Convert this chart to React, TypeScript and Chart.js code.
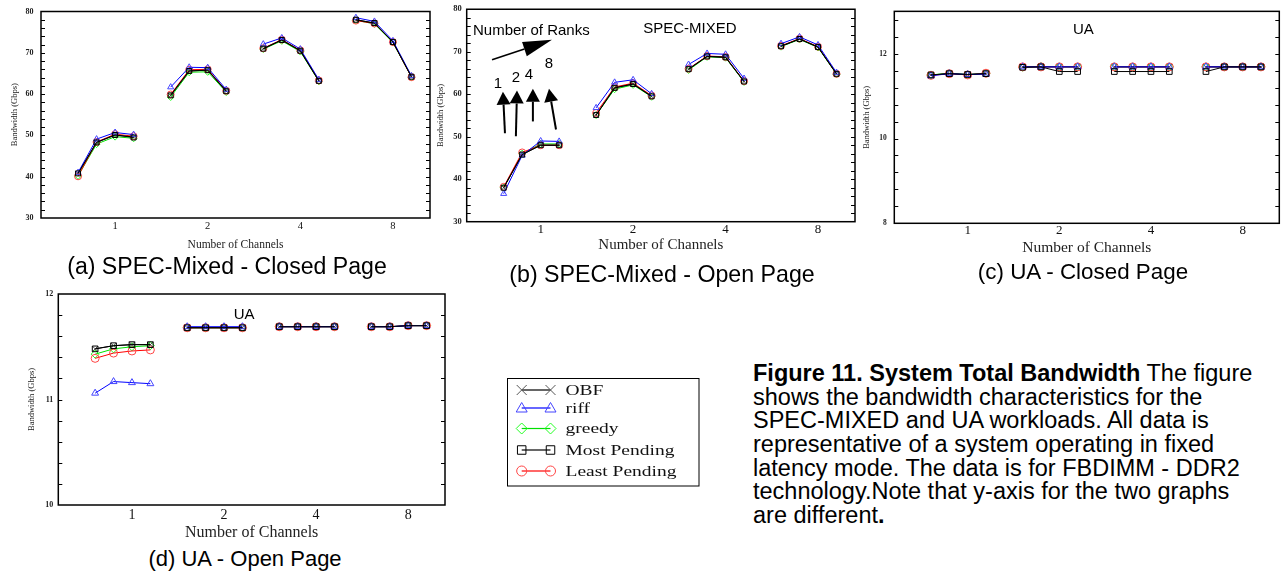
import React, { useEffect, useRef } from 'react';
import { Chart, registerables } from 'chart.js';

Chart.register(...registerables);

// ---------- data ----------
const channelLabels = ['1', '2', '4', '8'];
const rankLabels = ['1', '2', '4', '8'];
const seriesNames = ['OBF', 'riff', 'greedy', 'Most Pending', 'Least Pending'];

// (a) SPEC-Mixed - Closed Page (values per channel group, ranks 1,2,4,8)
const aOBF = [40.8, 48.3, 50.1, 49.6, 59.7, 65.6, 65.8, 60.7, 71.0, 73.1, 70.5, 63.2, 78.0, 77.2, 72.6, 64.2];
const aRiff = [41.0, 49.1, 50.7, 50.2, 61.7, 66.5, 66.4, 61.1, 72.1, 73.6, 70.9, 63.5, 78.5, 77.6, 72.9, 64.4];
const aGreedy = [40.2, 47.9, 49.7, 49.3, 59.3, 65.3, 65.4, 60.5, 70.9, 72.9, 70.3, 63.1, 77.9, 77.0, 72.5, 64.1];
const aMost = [40.8, 48.3, 50.1, 49.5, 59.7, 65.6, 65.8, 60.7, 71.0, 73.1, 70.5, 63.2, 78.0, 77.2, 72.6, 64.2];
const aLeast = [40.1, 48.4, 50.3, 49.8, 59.9, 65.9, 66.0, 60.8, 71.1, 73.2, 70.6, 63.3, 77.8, 77.1, 72.6, 64.1];

// (b) SPEC-Mixed - Open Page
const bOBF = [38.0, 45.8, 48.0, 48.0, 55.1, 61.5, 62.4, 59.5, 65.9, 68.9, 68.7, 63.0, 71.3, 73.0, 71.1, 64.8];
const bRiff = [36.6, 45.6, 49.0, 48.9, 56.8, 62.8, 63.4, 60.1, 67.0, 69.6, 69.4, 63.7, 71.9, 73.5, 71.6, 65.1];
const bGreedy = [38.0, 46.0, 48.3, 48.3, 55.1, 61.2, 62.2, 59.4, 65.7, 68.8, 68.6, 62.9, 71.2, 72.9, 71.0, 64.7];
const bMost = [38.0, 45.8, 48.0, 48.0, 55.1, 61.5, 62.4, 59.5, 65.9, 68.9, 68.7, 63.0, 71.3, 73.0, 71.1, 64.8];
const bLeast = [38.2, 46.3, 48.0, 48.0, 55.6, 61.7, 62.6, 59.7, 66.0, 69.0, 68.8, 63.1, 71.4, 73.1, 71.2, 64.8];

// (c) UA - Closed Page
const cOBF = [11.5, 11.53, 11.51, 11.53, 11.69, 11.69, 11.69, 11.69, 11.69, 11.69, 11.69, 11.69, 11.69, 11.69, 11.69, 11.69];
const cRiff = [11.48, 11.53, 11.51, 11.52, 11.69, 11.69, 11.69, 11.69, 11.69, 11.69, 11.69, 11.69, 11.69, 11.69, 11.69, 11.69];
const cGreedy = [11.5, 11.54, 11.51, 11.54, 11.68, 11.7, 11.69, 11.69, 11.69, 11.69, 11.69, 11.69, 11.69, 11.69, 11.69, 11.69];
const cMost = [11.5, 11.53, 11.51, 11.53, 11.68, 11.69, 11.58, 11.58, 11.58, 11.58, 11.58, 11.58, 11.58, 11.69, 11.69, 11.69];
const cLeast = [11.49, 11.53, 11.5, 11.54, 11.69, 11.69, 11.69, 11.69, 11.69, 11.69, 11.69, 11.69, 11.69, 11.69, 11.69, 11.69];

// (d) UA - Open Page
const dOBF = [11.48, 11.51, 11.52, 11.52, 11.68, 11.68, 11.68, 11.68, 11.69, 11.69, 11.69, 11.69, 11.69, 11.69, 11.7, 11.7];
const dRiff = [11.06, 11.17, 11.16, 11.15, 11.69, 11.69, 11.69, 11.69, 11.69, 11.69, 11.69, 11.69, 11.69, 11.69, 11.7, 11.7];
const dGreedy = [11.43, 11.48, 11.5, 11.51, 11.68, 11.68, 11.68, 11.68, 11.69, 11.69, 11.69, 11.69, 11.69, 11.69, 11.7, 11.7];
const dMost = [11.48, 11.51, 11.52, 11.52, 11.68, 11.68, 11.68, 11.68, 11.69, 11.69, 11.69, 11.69, 11.69, 11.69, 11.7, 11.7];
const dLeast = [11.39, 11.44, 11.46, 11.47, 11.68, 11.68, 11.68, 11.68, 11.69, 11.69, 11.69, 11.69, 11.69, 11.69, 11.7, 11.7];

// y-axis ticks
const specTicks = [30, 40, 50, 60, 70, 80];
const uaClosedTicks = [8, 10, 12];
const uaOpenTicks = [10, 11, 12];

// "Number of Ranks" annotation in panel (b), in data units
const rankArrowTails = [{ x: 0.07, y: 50.8 }, { x: 0.66, y: 50.1 }, { x: 1.58, y: 53.6 }, { x: 2.83, y: 51.7 }];
const rankArrowTips = [{ x: -0.04, y: 60.6 }, { x: 0.72, y: 60.9 }, { x: 1.58, y: 61.3 }, { x: 2.45, y: 61.3 }];
const rankLabelPos = [{ x: -0.31, y: 62.5 }, { x: 0.66, y: 63.9 }, { x: 1.37, y: 64.6 }, { x: 2.45, y: 67.2 }];

// ---------- styles ----------
const seriesStyles = [
  { line: '#000000', point: '#555555', style: 'crossRot', order: 2 },
  { line: '#0000ff', point: '#4444ff', style: 'triangle', order: 1 },
  { line: '#00e000', point: '#22ff22', style: 'rectRot', order: 4 },
  { line: '#000000', point: '#000000', style: 'rect', order: 0 },
  { line: '#ff0000', point: '#ff4444', style: 'circle', order: 3 },
];

const SERIF = "'Liberation Serif', 'Times New Roman', serif";
const SANS = "'Liberation Sans', Arial, sans-serif";

type Box = { left: number; top: number; width: number; height: number };
type Area = { l: number; t: number; r: number; b: number };
type TextItem = { text: string; x: number; y: number; size: number; align: CanvasTextAlign };
type Arrow = { from: { x: number; y: number }; to: { x: number; y: number }; head: number; headW: number; lw: number };

type PanelCfg = {
  series: number[][];
  yMin: number;
  yMax: number;
  yTicks: number[];
  yMinor: number;
  canvas: Box;
  area: Area;
  yTickSize: number;
  yTickPad: number;
  yTitleSize: number;
  yTitlePad: number;
  xTickSize: number;
  xTickPad: number;
  xTitleSize: number;
  xTitlePad: number;
  radius: number;
  texts: TextItem[];
  arrows: Arrow[];
};

function buildData(vals: number[]) {
  const pts: { x: number; y: number | null }[] = [];
  channelLabels.forEach((_, g) => {
    rankLabels.forEach((__, r) => {
      pts.push({ x: g * 5 + r, y: vals[g * rankLabels.length + r] });
    });
    if (g < channelLabels.length - 1) pts.push({ x: g * 5 + 4, y: null });
  });
  return pts;
}

function drawArrow(ctx: CanvasRenderingContext2D, x1: number, y1: number, x2: number, y2: number, head: number, headW: number, lw: number) {
  const ang = Math.atan2(y2 - y1, x2 - x1);
  const bx = x2 - Math.cos(ang) * head;
  const by = y2 - Math.sin(ang) * head;
  ctx.beginPath();
  ctx.lineWidth = lw;
  ctx.moveTo(x1, y1);
  ctx.lineTo(bx, by);
  ctx.stroke();
  ctx.beginPath();
  ctx.moveTo(x2, y2);
  ctx.lineTo(bx + Math.sin(ang) * headW / 2, by - Math.cos(ang) * headW / 2);
  ctx.lineTo(bx - Math.sin(ang) * headW / 2, by + Math.cos(ang) * headW / 2);
  ctx.closePath();
  ctx.fill();
}

function Panel({ cfg }: { cfg: PanelCfg }) {
  const ref = useRef<HTMLCanvasElement>(null);
  useEffect(() => {
    const c = cfg;
    const frame = {
      id: 'frame',
      afterDatasetsDraw(chart: any) {
        const { ctx, chartArea, scales } = chart;
        const { left, right, top, bottom } = chartArea;
        const ys = scales.y;
        const xs = scales.x;
        ctx.save();
        ctx.strokeStyle = '#000';
        ctx.lineWidth = 1.5;
        ctx.strokeRect(left, top, right - left, bottom - top);
        ctx.lineWidth = 1;
        const n = Math.round((c.yMax - c.yMin) / c.yMinor);
        for (let i = 1; i < n; i++) {
          const v = c.yMin + i * c.yMinor;
          const py = Math.round(ys.getPixelForValue(v)) + 0.5;
          ctx.beginPath();
          ctx.moveTo(left, py);
          ctx.lineTo(left + 4, py);
          ctx.moveTo(right, py);
          ctx.lineTo(right - 4, py);
          ctx.stroke();
        }
        ctx.fillStyle = '#000';
        ctx.strokeStyle = '#000';
        c.texts.forEach((t) => {
          ctx.font = `${t.size}px ${SANS}`;
          ctx.textAlign = t.align;
          ctx.textBaseline = 'middle';
          ctx.fillText(t.text, xs.getPixelForValue(t.x), ys.getPixelForValue(t.y));
        });
        c.arrows.forEach((a) => {
          drawArrow(ctx, xs.getPixelForValue(a.from.x), ys.getPixelForValue(a.from.y), xs.getPixelForValue(a.to.x), ys.getPixelForValue(a.to.y), a.head, a.headW, a.lw);
        });
        ctx.restore();
      },
    };
    const chart = new Chart(ref.current as HTMLCanvasElement, {
      type: 'line',
      data: {
        datasets: c.series.map((vals, i) => ({
          label: seriesNames[i],
          data: buildData(vals),
          borderColor: seriesStyles[i].line,
          borderWidth: 1,
          pointStyle: seriesStyles[i].style as any,
          pointRadius: c.radius,
          pointBorderColor: seriesStyles[i].point,
          pointBackgroundColor: 'rgba(0,0,0,0)',
          pointBorderWidth: 1,
          spanGaps: false,
          tension: 0,
          order: seriesStyles[i].order,
        })),
      },
      options: {
        animation: false,
        responsive: false,
        maintainAspectRatio: false,
        events: [],
        layout: {
          padding: {
            left: 0,
            top: c.area.t - c.canvas.top,
            right: c.canvas.left + c.canvas.width - c.area.r,
            bottom: 0,
          },
        },
        plugins: { legend: { display: false }, tooltip: { enabled: false } },
        scales: {
          x: {
            type: 'linear',
            min: -2,
            max: 19,
            grid: { display: false, drawTicks: false },
            border: { display: false },
            afterBuildTicks: (s: any) => {
              s.ticks = channelLabels.map((_, g) => ({ value: g * 5 + 2 }));
            },
            afterFit: (s: any) => {
              s.height = c.canvas.top + c.canvas.height - c.area.b;
            },
            ticks: {
              autoSkip: false,
              maxRotation: 0,
              padding: c.xTickPad,
              color: '#111',
              font: { family: SERIF, size: c.xTickSize, lineHeight: 1 },
              callback: (_v: any, i: number) => channelLabels[i],
            },
            title: {
              display: true,
              text: 'Number of Channels',
              color: '#222',
              font: { family: SERIF, size: c.xTitleSize, lineHeight: 1 },
              padding: { top: 0, bottom: c.xTitlePad },
            },
          },
          y: {
            type: 'linear',
            min: c.yMin,
            max: c.yMax,
            grid: { display: false, drawTicks: false },
            border: { display: false },
            afterBuildTicks: (s: any) => {
              s.ticks = c.yTicks.map((v) => ({ value: v }));
            },
            afterFit: (s: any) => {
              s.width = c.area.l - c.canvas.left;
            },
            ticks: {
              padding: c.yTickPad,
              color: '#222',
              font: { family: SERIF, size: c.yTickSize, weight: 'bold', lineHeight: 1 },
              callback: (v: any) => String(v),
            },
            title: {
              display: true,
              text: 'Bandwidth (Gbps)',
              color: '#222',
              font: { family: SERIF, size: c.yTitleSize, lineHeight: 1 },
              padding: { top: c.yTitlePad, bottom: 0 },
            },
          },
        },
      },
      plugins: [frame],
    } as any);
    return () => chart.destroy();
  }, [cfg]);
  return (
    <canvas
      ref={ref}
      width={cfg.canvas.width}
      height={cfg.canvas.height}
      style={{ position: 'absolute', left: cfg.canvas.left, top: cfg.canvas.top, width: cfg.canvas.width, height: cfg.canvas.height }}
    />
  );
}

const panelA: PanelCfg = {
  series: [aOBF, aRiff, aGreedy, aMost, aLeast],
  yMin: 30, yMax: 80, yTicks: specTicks, yMinor: 2,
  canvas: { left: 0, top: 0, width: 440, height: 256 },
  area: { l: 41, t: 6, r: 430, b: 218 },
  yTickSize: 8, yTickPad: 7.5, yTitleSize: 8.5, yTitlePad: 10.5,
  xTickSize: 10.5, xTickPad: 3, xTitleSize: 11.5, xTitlePad: 5.3,
  radius: 3.5,
  texts: [],
  arrows: [],
};

const panelB: PanelCfg = {
  series: [bOBF, bRiff, bGreedy, bMost, bLeast],
  yMin: 30, yMax: 80, yTicks: specTicks, yMinor: 2,
  canvas: { left: 434, top: 0, width: 436, height: 258 },
  area: { l: 466.7, t: 8.3, r: 855, b: 221.7 },
  yTickSize: 8.5, yTickPad: 5, yTitleSize: 8.5, yTitlePad: 2.3,
  xTickSize: 13, xTickPad: 1, xTitleSize: 15, xTitlePad: 5.5,
  radius: 3.5,
  texts: [
    { text: 'Number of Ranks', x: -1.66, y: 74.9, size: 15, align: 'left' },
    { text: 'SPEC-MIXED', x: 10.07, y: 75.4, size: 15, align: 'center' },
    ...rankLabels.map((t, i) => ({ text: t, x: rankLabelPos[i].x, y: rankLabelPos[i].y, size: 15, align: 'center' as CanvasTextAlign })),
  ],
  arrows: [
    { from: { x: -0.63, y: 68.1 }, to: { x: 2.61, y: 72.8 }, head: 29, headW: 15, lw: 1.6 },
    ...rankArrowTips.map((tip, i) => ({ from: rankArrowTails[i], to: tip, head: 13, headW: 14, lw: 2 })),
  ],
};

const panelC: PanelCfg = {
  series: [cOBF, cRiff, cGreedy, cMost, cLeast],
  yMin: 8, yMax: 13, yTicks: uaClosedTicks, yMinor: 0.4,
  canvas: { left: 862, top: 0, width: 424, height: 262 },
  area: { l: 894.3, t: 5.3, r: 1279.3, b: 223.3 },
  yTickSize: 7.5, yTickPad: 7.6, yTitleSize: 8.5, yTitlePad: 0.8,
  xTickSize: 13, xTickPad: 0.5, xTitleSize: 15.5, xTitlePad: 6,
  radius: 4,
  texts: [{ text: 'UA', x: 8.31, y: 12.57, size: 15, align: 'center' }],
  arrows: [],
};

const panelD: PanelCfg = {
  series: [dOBF, dRiff, dGreedy, dMost, dLeast],
  yMin: 10, yMax: 12, yTicks: uaOpenTicks, yMinor: 0.2,
  canvas: { left: 0, top: 285, width: 450, height: 260 },
  area: { l: 58.3, t: 292.3, r: 446.7, b: 505 },
  yTickSize: 8, yTickPad: 5, yTitleSize: 8.5, yTitlePad: 27.4,
  xTickSize: 14, xTickPad: 3, xTitleSize: 16, xTitlePad: 4.7,
  radius: 4,
  texts: [{ text: 'UA', x: 8.09, y: 11.805, size: 15, align: 'center' }],
  arrows: [],
};

function drawMarker(ctx: CanvasRenderingContext2D, style: string, x: number, y: number, r: number) {
  ctx.beginPath();
  if (style === 'crossRot') {
    ctx.moveTo(x - r, y - r); ctx.lineTo(x + r, y + r);
    ctx.moveTo(x + r, y - r); ctx.lineTo(x - r, y + r);
  } else if (style === 'triangle') {
    ctx.moveTo(x, y - r * 1.1); ctx.lineTo(x + r * 1.1, y + r * 0.8); ctx.lineTo(x - r * 1.1, y + r * 0.8); ctx.closePath();
  } else if (style === 'rectRot') {
    ctx.moveTo(x, y - r * 1.1); ctx.lineTo(x + r * 1.1, y); ctx.lineTo(x, y + r * 1.1); ctx.lineTo(x - r * 1.1, y); ctx.closePath();
  } else if (style === 'rect') {
    ctx.rect(x - r * 0.85, y - r * 0.85, r * 1.7, r * 1.7);
  } else {
    ctx.arc(x, y, r, 0, Math.PI * 2);
  }
  ctx.stroke();
}

function LegendBox() {
  const ref = useRef<HTMLCanvasElement>(null);
  useEffect(() => {
    const cv = ref.current as HTMLCanvasElement;
    const ctx = cv.getContext('2d') as CanvasRenderingContext2D;
    const ox = 500, oy = 370;
    ctx.clearRect(0, 0, cv.width, cv.height);
    ctx.strokeStyle = '#000';
    ctx.lineWidth = 1;
    ctx.strokeRect(507.5 - ox, 378.5 - oy, 191.5, 107.5);
    const rows = [390, 408, 428.5, 450, 471];
    seriesNames.forEach((name, i) => {
      const y = rows[i] - oy;
      const x1 = 521.7 - ox, x2 = 550.5 - ox;
      ctx.strokeStyle = seriesStyles[i].line;
      ctx.lineWidth = 1.2;
      ctx.beginPath(); ctx.moveTo(x1, y); ctx.lineTo(x2, y); ctx.stroke();
      ctx.strokeStyle = seriesStyles[i].point;
      ctx.lineWidth = 1;
      drawMarker(ctx, seriesStyles[i].style, x1, y, 5);
      drawMarker(ctx, seriesStyles[i].style, x2, y, 5);
      ctx.save();
      ctx.fillStyle = '#111';
      ctx.font = `15px ${SERIF}`;
      ctx.textBaseline = 'middle';
      ctx.translate(565.5 - ox, y + 1);
      ctx.scale(1.3, 1);
      ctx.fillText(name, 0, 0);
      ctx.restore();
    });
  }, []);
  return <canvas ref={ref} width={210} height={125} style={{ position: 'absolute', left: 500, top: 370, width: 210, height: 125 }} />;
}

const captionStyle = (cx: number, cy: number, size: number): React.CSSProperties => ({
  position: 'absolute',
  left: cx - 200,
  top: cy - size / 2,
  width: 400,
  textAlign: 'center',
  fontFamily: SANS,
  fontSize: size,
  lineHeight: `${size}px`,
  whiteSpace: 'nowrap',
  color: '#000',
});

export default function App() {
  return (
    <div style={{ position: 'absolute', left: 0, top: 0, width: 1286, height: 573, background: '#fff', overflow: 'hidden' }}>
      <Panel cfg={panelA} />
      <Panel cfg={panelB} />
      <Panel cfg={panelC} />
      <Panel cfg={panelD} />
      <LegendBox />
      <div style={captionStyle(227, 267, 23.1)}>(a) SPEC-Mixed - Closed Page</div>
      <div style={captionStyle(662, 275, 23.2)}>(b) SPEC-Mixed - Open Page</div>
      <div style={captionStyle(1083, 272, 22.4)}>(c) UA - Closed Page</div>
      <div style={captionStyle(245, 559, 22)}>(d) UA - Open Page</div>
      <div
        style={{
          position: 'absolute',
          left: 753,
          top: 362.3,
          fontFamily: SANS,
          fontSize: 23.5,
          lineHeight: '23.6px',
          whiteSpace: 'nowrap',
          color: '#000',
        }}
      >
        <b>Figure 11. System Total Bandwidth</b> The figure
        <br />
        shows the bandwidth characteristics for the
        <br />
        SPEC-MIXED and UA workloads. All data is
        <br />
        representative of a system operating in fixed
        <br />
        latency mode. The data is for FBDIMM - DDR2
        <br />
        technology.Note that y-axis for the two graphs
        <br />
        are different<b>.</b>
      </div>
    </div>
  );
}
